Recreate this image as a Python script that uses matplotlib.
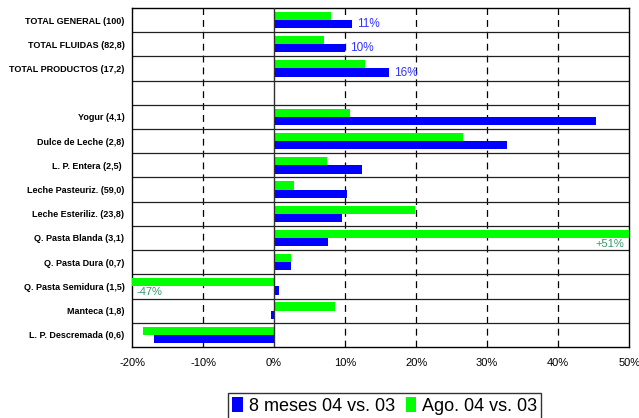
import numpy as np
import matplotlib.pyplot as plt
from matplotlib.patches import Patch

plt.rcParams['font.family'] = ['Liberation Sans', 'DejaVu Sans']

categorias = ['TOTAL GENERAL (100)', 'TOTAL FLUIDAS (82,8)', 'TOTAL PRODUCTOS (17,2)', '',
              'Yogur (4,1)', 'Dulce de Leche (2,8)', 'L. P. Entera (2,5) ',
              'Leche Pasteuriz. (59,0)', 'Leche Esteriliz. (23,8)', 'Q. Pasta Blanda (3,1)',
              'Q. Pasta Dura (0,7)', 'Q. Pasta Semidura (1,5)', 'Manteca (1,8)',
              'L. P. Descremada (0,6)']
# variacion acumulada 8 meses 04 vs. 03 (%)
ocho_meses = [11.0, 10.0, 16.2, np.nan, 45.3, 32.8, 12.4, 10.3, 9.5, 7.6, 2.4, 0.7, -0.4, -16.9]
# variacion agosto 04 vs. 03 (%)
agosto = [8.0, 7.1, 12.8, np.nan, 10.7, 26.6, 7.4, 2.8, 19.8, 51.0, 2.4, -47.0, 8.6, -18.4]
xticks = [-20, -10, 0, 10, 20, 30, 40, 50]

azul = '#0000FF'
verde = '#00FF00'

fig = plt.figure(figsize=(6.39, 4.18), dpi=100)
ax = fig.add_axes([0.2066, 0.170, 0.778, 0.811])

y = np.arange(len(categorias))
h = 0.34
ax.barh(y - h / 2, agosto, height=h, color=verde, zorder=3)
ax.barh(y + h / 2, ocho_meses, height=h, color=azul, zorder=3)

ax.set_xlim(-20, 50)
ax.set_ylim(len(categorias) - 0.5, -0.5)
ax.set_yticks(y)
ax.set_yticklabels(categorias, fontsize=6.5, fontweight='bold')
ax.set_xticks(xticks)
ax.set_xticklabels([f'{t}%' for t in xticks], fontsize=8)
ax.tick_params(axis='x', length=0, pad=8)
ax.tick_params(axis='y', length=0, pad=5.5)

# separadores de filas y grilla vertical
for i in range(len(categorias) - 1):
    ax.axhline(i + 0.5, color='#202020', lw=0.9, zorder=2)
for t in xticks[1:-1]:
    if t == 0:
        ax.axvline(0, color='#303030', lw=1.0, zorder=4)
    else:
        ax.axvline(t, color='black', lw=0.9, ls=(0, (5.5, 4)), zorder=1)
for s in ax.spines.values():
    s.set_color('black')
    s.set_linewidth(1.0)

# etiquetas de los totales
for i in range(3):
    ax.text(ocho_meses[i] + 0.7, y[i] + h / 2, f'{ocho_meses[i]:.0f}%', color='#3333FF',
            fontsize=8.5, va='center', ha='left', zorder=5)
# barras fuera de escala
ax.text(49.3, 9 + 0.25, f'+{agosto[9]:.0f}%', color='#339966', fontsize=8, va='center', ha='right')
ax.text(-19.4, 11 + 0.22, f'{agosto[11]:.0f}%', color='#339966', fontsize=8, va='center', ha='left')

handles = [Patch(facecolor=azul, label='8 meses 04 vs. 03'),
           Patch(facecolor=verde, label='Ago. 04 vs. 03')]
leg = fig.legend(handles=handles, loc='lower center', bbox_to_anchor=(0.602, -0.004), ncol=2,
                 fontsize=13, frameon=True, fancybox=False, handlelength=0.6, handleheight=0.9,
                 handletextpad=0.3, columnspacing=0.6, borderpad=0.25, borderaxespad=0)
leg.get_frame().set_edgecolor('black')
leg.get_frame().set_linewidth(1.0)

fig.savefig('out.png', dpi=100)
